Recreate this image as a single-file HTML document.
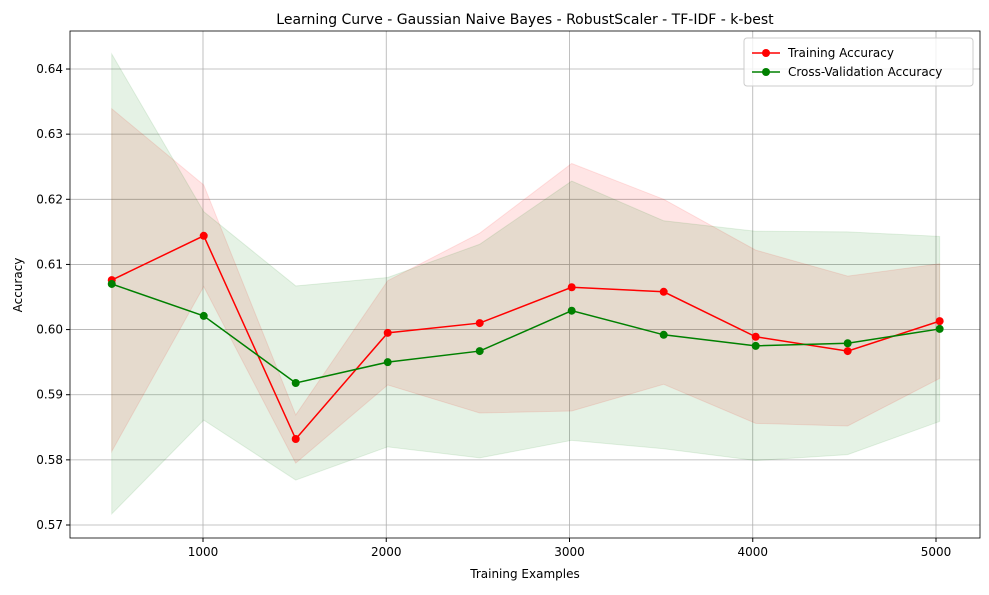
<!DOCTYPE html>
<html><head><meta charset="utf-8"><style>
body{margin:0;background:#fff;font-family:"Liberation Sans","DejaVu Sans",sans-serif;}
svg text{font-family:"DejaVu Sans","Liberation Sans",sans-serif;}
</style></head><body>
<svg id="chart" width="989" height="590" xmlns="http://www.w3.org/2000/svg"></svg>
<script>
const trainSizes=[502,1004,1506,2008,2510,3012,3514,4016,4518,5020];
const trainMean=[0.6076,0.6144,0.5832,0.5995,0.6010,0.6065,0.6058,0.5989,0.5967,0.6013];
const trainStd=[0.0263,0.0078,0.0037,0.0080,0.0138,0.0190,0.0142,0.0133,0.0115,0.0088];
const cvMean=[0.6070,0.6021,0.5918,0.5950,0.5967,0.6029,0.5992,0.5975,0.5979,0.6001];
const cvStd=[0.0353,0.0160,0.0149,0.0130,0.0164,0.0199,0.0175,0.0176,0.0171,0.0142];
const xTicks=[1000,2000,3000,4000,5000];
const yTicks=[0.57,0.58,0.59,0.60,0.61,0.62,0.63,0.64];
const yTickLabels=["0.57","0.58","0.59","0.60","0.61","0.62","0.63","0.64"];

const NS="http://www.w3.org/2000/svg";
const svg=document.getElementById('chart');
const L=70,R=980,T=31,B=538;
const X=v=>203+(v-1000)*0.18325;
const Y=v=>525-(v-0.57)*6514;
function mk(tag,attrs,parent){const e=document.createElementNS(NS,tag);for(const k in attrs)e.setAttribute(k,attrs[k]);(parent||svg).appendChild(e);return e;}

// grid
xTicks.forEach(t=>{const l=mk('line',{x1:X(t),x2:X(t),y1:T,y2:B,stroke:'#b0b0b0','stroke-width':0.8});
});
yTicks.forEach(t=>{const l=mk('line',{x1:L,x2:R,y1:Y(t),y2:Y(t),stroke:'#b0b0b0','stroke-width':0.8});
});

function band(mean,std,color,name){
  let pts=trainSizes.map((s,i)=>X(s)+','+Y(mean[i]+std[i]));
  for(let i=trainSizes.length-1;i>=0;i--)pts.push(X(trainSizes[i])+','+Y(mean[i]-std[i]));
  const p=mk('polygon',{points:pts.join(' '),fill:color,'fill-opacity':0.1,stroke:color,'stroke-opacity':0.1});
  
}
band(trainMean,trainStd,'#ff0000','training-std-band');
band(cvMean,cvStd,'#008000','cv-std-band');

function series(mean,color,name){
  const pl=mk('polyline',{points:trainSizes.map((s,i)=>X(s)+','+Y(mean[i])).join(' '),fill:'none',stroke:color,'stroke-width':1.5});
  
  trainSizes.forEach((s,i)=>{const c=mk('circle',{cx:X(s),cy:Y(mean[i]),r:4,fill:color});
  });
}
series(trainMean,'#ff0000','training-accuracy');
series(cvMean,'#008000','cv-accuracy');

// frame
const fr=mk('rect',{x:L,y:T,width:R-L,height:B-T,fill:'none',stroke:'#000','stroke-width':0.8});


xTicks.forEach(t=>{mk('line',{x1:X(t),x2:X(t),y1:B,y2:B+4,stroke:'#000'});
const tx=mk('text',{x:X(t),y:B+18,'text-anchor':'middle','font-size':12});tx.textContent=t;
});
yTicks.forEach((t,i)=>{mk('line',{x1:L-4,x2:L,y1:Y(t),y2:Y(t),stroke:'#000'});
const tx=mk('text',{x:L-7,y:Y(t)+4,'text-anchor':'end','font-size':12});tx.textContent=yTickLabels[i];
});

let t=mk('text',{x:525,y:578,'text-anchor':'middle','font-size':12});t.textContent='Training Examples';

t=mk('text',{x:22,y:285,'text-anchor':'middle','font-size':12,transform:'rotate(-90 22 285)'});t.textContent='Accuracy';

t=mk('text',{x:525,y:24,'text-anchor':'middle','font-size':14});t.textContent='Learning Curve - Gaussian Naive Bayes - RobustScaler - TF-IDF - k-best';


// legend
const lg=mk('g',{});
mk('rect',{x:744,y:38,width:229,height:48,rx:3,fill:'#fff','fill-opacity':0.8,stroke:'#ccc'},lg);
[['Training Accuracy','#ff0000',53],['Cross-Validation Accuracy','#008000',72]].forEach(([lab,c,y])=>{
 const g=mk('g',{},lg);
 mk('line',{x1:752,x2:780,y1:y,y2:y,stroke:c,'stroke-width':1.5},g);
 mk('circle',{cx:766,cy:y,r:4,fill:c},g);
 const tx=mk('text',{x:788,y:y+4,'font-size':12},g);tx.textContent=lab;
});
</script>
</body></html>
